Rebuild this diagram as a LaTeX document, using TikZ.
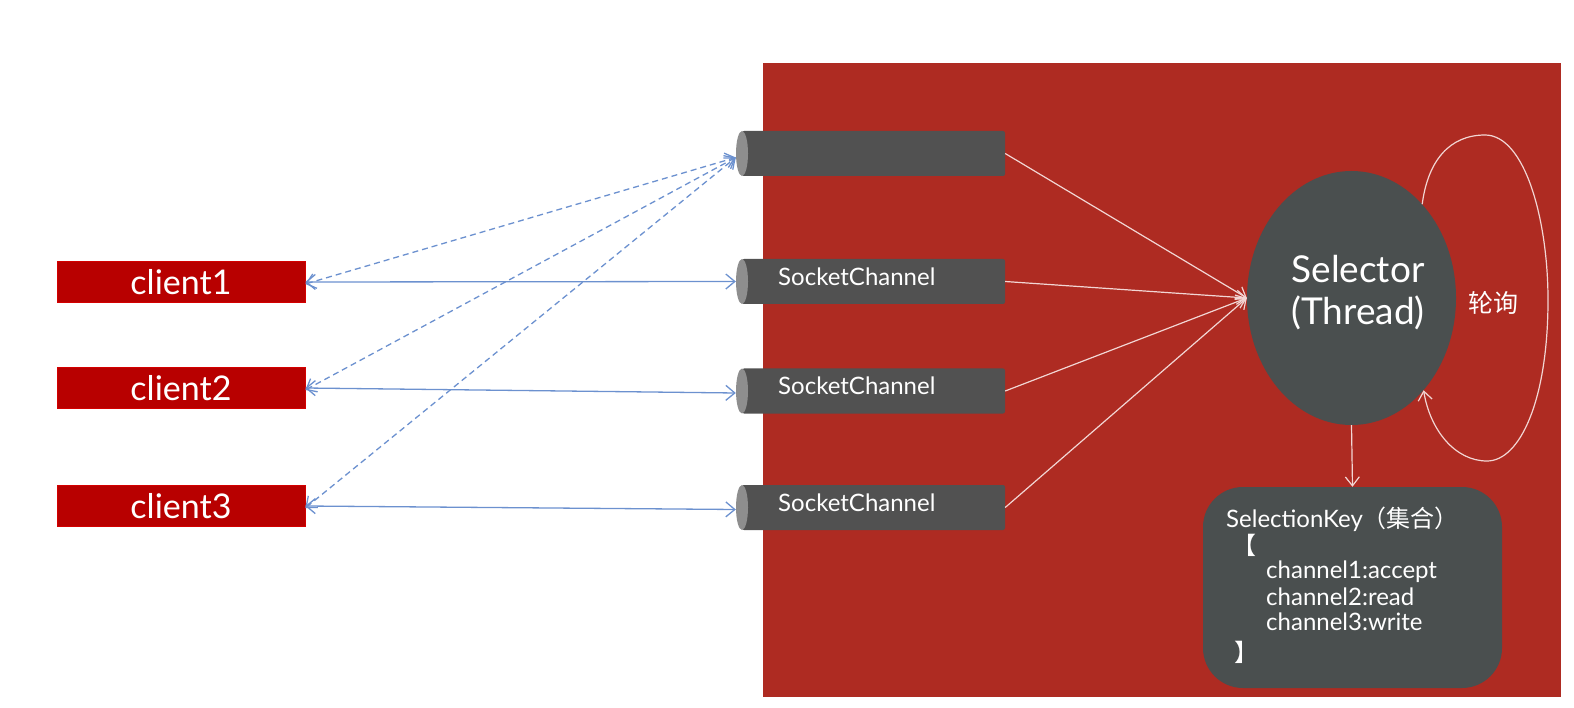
\documentclass[tikz,border=0pt]{standalone}
\usepackage{fontspec}
\setmainfont{Lato}
\newfontfamily\cjk{Noto Sans CJK SC}
\usetikzlibrary{shapes.geometric,arrows.meta}
\definecolor{bgred}{HTML}{AE2B22}
\definecolor{clientred}{HTML}{B80000}
\definecolor{cylbody}{HTML}{515151}
\definecolor{cylcap}{HTML}{8E8E8E}
\definecolor{selgray}{HTML}{4A4F4F}
\definecolor{bluel}{HTML}{6C91CF}
\definecolor{whitel}{HTML}{F2D6D4}
\begin{document}
\begin{tikzpicture}[x=1pt,y=-1pt,
  client/.style={rectangle, fill=clientred, draw=red!40!clientred, line width=0.6pt, minimum width=248pt, minimum height=41pt, inner sep=0pt, text=white, font=\fontsize{34}{36}\selectfont},
  cylbox/.style={rectangle, fill=cylbody, minimum width=263pt, minimum height=45pt, inner sep=0pt, rounded corners=2pt},
  cylcapst/.style={ellipse, fill=cylcap, minimum width=12pt, minimum height=45pt, inner sep=0pt},
  sctext/.style={text=white, font=\fontsize{24}{26}\selectfont, inner sep=0pt, anchor=west},
  blink/.style={draw=bluel, line width=1.3pt, {Straight Barb[length=9pt,width=15pt]}-{Straight Barb[length=9pt,width=15pt]}},
  bdash/.style={blink, dash pattern=on 6pt off 4pt},
  wlink/.style={draw=whitel, line width=1.2pt, -{Straight Barb[length=9pt,width=14pt]}},
  sktext/.style={text=white, font=\fontsize{24}{26}\selectfont, inner sep=0pt, anchor=west}
]
\useasboundingbox (0,0) rectangle (1574,708);
\fill[bgred] (763,63) rectangle (1561,697);

% clients
\node[client] (c1) at (181,282) {client1};
\node[client] (c2) at (181,388) {client2};
\node[client] (c3) at (181,506) {client3};

% channels
\node[cylbox] (ch0) at (873.5,153.5) {};
\node[cylcapst] (k0) at (742,153.5) {};
\node[cylbox] (ch1) at (873.5,281.5) {};
\node[cylcapst] (k1) at (742,281.5) {};
\node[sctext] (t1) at (778,277) {SocketChannel};
\node[cylbox] (ch2) at (873.5,391) {};
\node[cylcapst] (k2) at (742,391) {};
\node[sctext] (t2) at (778,386) {SocketChannel};
\node[cylbox] (ch3) at (873.5,507.5) {};
\node[cylcapst] (k3) at (742,507.5) {};
\node[sctext] (t3) at (778,503) {SocketChannel};

% selector
\node[ellipse, fill=selgray, minimum width=209pt, minimum height=254pt, inner sep=0pt] (sel) at (1351.5,298) {};
\node[text=white, font=\fontsize{37}{42}\selectfont, align=center, inner sep=0pt] (selt) at (1358,293) {Selector\\(Thread)};
\node[text=white, font=\cjk\fontsize{25}{28}\selectfont, inner sep=0pt] (poll) at (1493,303) {轮询};

% selection key
\node[rectangle, rounded corners=40pt, fill=selgray, minimum width=299pt, minimum height=201pt, inner sep=0pt] (sk) at (1352.5,587.5) {};
\node[sktext] (sk1) at (1226,519) {SelectionKey{\cjk （集合）}};
\node[sktext] (sk2) at (1232,545) {\cjk 【};
\node[sktext] (sk3) at (1266,572) {channel1:accept};
\node[sktext] (sk4) at (1266,597) {channel2:read};
\node[sktext] (sk5) at (1266,622) {channel3:write};
\node[sktext] (sk6) at (1234,652) {\cjk 】};

% blue links
\draw[blink] (c1.east) -- (k1.west);
\draw[blink] (c2.east) -- ([yshift=-2pt]k2.west);
\draw[blink] (c3.east) -- ([yshift=-2pt]k3.west);
\draw[bdash] ([yshift=-2pt]c1.east) -- ([yshift=-4pt]k0.west);
\draw[bdash] ([yshift=-2pt]c2.east) -- ([yshift=-4pt]k0.west);
\draw[bdash] ([yshift=-2pt]c3.east) -- ([yshift=-4pt]k0.west);

% white links
\draw[wlink] (ch0.east) -- (sel.west);
\draw[wlink] (ch1.east) -- (sel.west);
\draw[wlink] (ch2.east) -- (sel.west);
\draw[wlink] (ch3.east) -- (sel.west);
\draw[wlink] (sel.south) -- (sk.north);
\draw[wlink] (sel.53) .. controls (1428,160) and (1450,135) .. (1485,135)
  .. controls (1525,135) and (1548,220) .. (1548,300)
  .. controls (1548,400) and (1520,461) .. (1487,461)
  .. controls (1455,461) and (1430,430) .. (sel.-52);
\end{tikzpicture}
\end{document}
